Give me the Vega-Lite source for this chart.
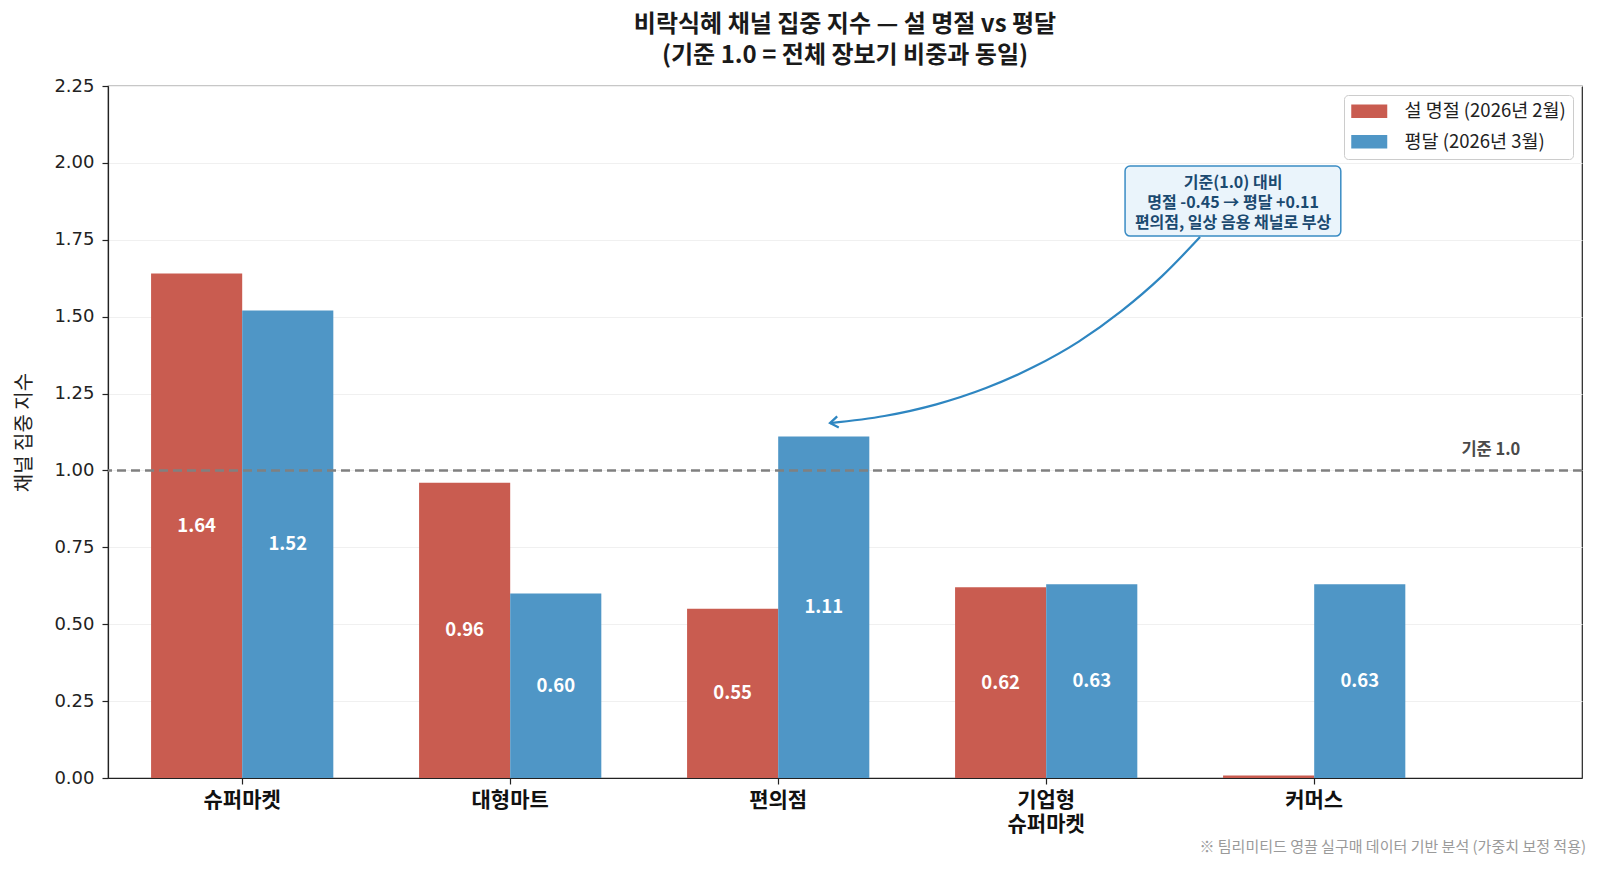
{
  "$schema": "https://vega.github.io/schema/vega-lite/v6.json",
  "width": 1474,
  "height": 692,
  "autosize": {"type": "none"},
  "padding": {"left": 108, "top": 86, "right": 18, "bottom": 91},
  "background": "white",
  "config": {
    "font": "Noto Sans CJK KR",
    "view": {"stroke": "#222222", "strokeWidth": 1.2},
    "axis": {"domainColor": "#222222", "tickColor": "#222222", "domainWidth": 1.2, "tickWidth": 1.2}
  },
  "title": {
    "text": ["비락식혜 채널 집중 지수 — 설 명절 vs 평달", "(기준 1.0 = 전체 장보기 비중과 동일)"],
    "font": "Noto Sans CJK KR",
    "fontSize": 24,
    "fontWeight": "bold",
    "color": "#1a1a1a",
    "lineHeight": 31,
    "anchor": "middle",
    "frame": "group",
    "offset": 9
  },
  "datasets": {
    "bars": [
      {"channel": "슈퍼마켓", "period": "설 명절 (2026년 2월)", "index": 1.64},
      {"channel": "슈퍼마켓", "period": "평달 (2026년 3월)", "index": 1.52},
      {"channel": "대형마트", "period": "설 명절 (2026년 2월)", "index": 0.96},
      {"channel": "대형마트", "period": "평달 (2026년 3월)", "index": 0.60},
      {"channel": "편의점", "period": "설 명절 (2026년 2월)", "index": 0.55},
      {"channel": "편의점", "period": "평달 (2026년 3월)", "index": 1.11},
      {"channel": "기업형 슈퍼마켓", "period": "설 명절 (2026년 2월)", "index": 0.62},
      {"channel": "기업형 슈퍼마켓", "period": "평달 (2026년 3월)", "index": 0.63},
      {"channel": "커머스", "period": "설 명절 (2026년 2월)", "index": 0.008},
      {"channel": "커머스", "period": "평달 (2026년 3월)", "index": 0.63}
    ],
    "arrow": [
      {"x": 3.575, "y": 1.759},
      {"x": 3.432, "y": 1.631},
      {"x": 3.281, "y": 1.518},
      {"x": 3.122, "y": 1.419},
      {"x": 2.953, "y": 1.336},
      {"x": 2.776, "y": 1.268},
      {"x": 2.591, "y": 1.215},
      {"x": 2.397, "y": 1.177},
      {"x": 2.194, "y": 1.154}
    ],
    "tip": [{"x": 2.194, "y": 1.154}],
    "box": [{"x": 3.295, "x2": 4.10, "y": 1.99, "y2": 1.762}],
    "note": [{"x": 3.698, "y": 1.934}],
    "base": [{"x": 4.66, "y": 1.068, "label": "기준 1.0"}],
    "footer": [{"x": 5.015, "y": -0.225, "label": "※ 팀리미티드 영끌 실구매 데이터 기반 분석 (가중치 보정 적용)"}],
    "one": [{"y": 1}]
  },
  "layer": [
    {
      "layer": [
        {
          "data": {"name": "bars"},
          "mark": {"type": "bar"},
          "encoding": {
            "x": {
              "field": "channel", "type": "nominal",
              "sort": ["슈퍼마켓", "대형마트", "편의점", "기업형 슈퍼마켓", "커머스"],
              "scale": {"paddingInner": 0.32, "paddingOuter": 0.41, "align": 0.196},
              "axis": {
                "title": null, "labelAngle": 0, "labelFontSize": 21, "labelFontWeight": "bold",
                "labelColor": "#111111", "labelFont": "Noto Sans CJK KR", "tickSize": 6,
                "labelPadding": 5, "labelLineHeight": 24.5,
                "labelExpr": "split(datum.label, ' ')"
              }
            },
            "xOffset": {
              "field": "period", "type": "nominal",
              "sort": ["설 명절 (2026년 2월)", "평달 (2026년 3월)"],
              "scale": {"paddingInner": 0, "paddingOuter": 0}
            },
            "y": {
              "field": "index", "type": "quantitative", "title": "채널 집중 지수",
              "scale": {"domain": [0, 2.25], "nice": false, "zero": true},
              "axis": {
                "values": [0, 0.25, 0.5, 0.75, 1, 1.25, 1.5, 1.75, 2, 2.25],
                "format": ".2f", "labelFont": "DejaVu Sans", "labelFontSize": 18, "labelColor": "#222222",
                "tickSize": 6, "labelPadding": 8,
                "grid": true, "gridColor": "#f0f0f0", "gridWidth": 1,
                "titleFont": "Noto Sans CJK KR", "titleFontSize": 20, "titleFontWeight": "normal",
                "titleColor": "#222222", "titlePadding": 19
              }
            },
            "color": {
              "field": "period", "type": "nominal",
              "sort": ["설 명절 (2026년 2월)", "평달 (2026년 3월)"],
              "scale": {"domain": ["설 명절 (2026년 2월)", "평달 (2026년 3월)"], "range": ["#C95C50", "#4F96C6"]},
              "legend": {
                "title": null, "orient": "top-right", "offset": 9, "padding": 7,
                "strokeColor": "#cccccc", "fillColor": "white", "cornerRadius": 4,
                "symbolType": "M-1,-0.75L3,-0.75L3,0.75L-1,0.75Z", "symbolSize": 324, "symbolStrokeWidth": 0,
                "labelFont": "Noto Sans CJK KR", "labelFontSize": 18.5, "labelColor": "#222222",
                "labelOffset": 35, "rowPadding": 11.5, "labelLimit": 400
              }
            }
          }
        },
        {
          "data": {"name": "one"},
          "mark": {"type": "rule", "color": "#808080", "strokeWidth": 2.5, "strokeDash": [9, 5]},
          "encoding": {"y": {"field": "y", "type": "quantitative", "title": "채널 집중 지수"}}
        }
      ]
    },
    {
      "data": {"name": "bars"},
      "transform": [{"filter": "datum.index >= 0.05"}],
      "mark": {"type": "text", "color": "white", "fontWeight": "bold", "fontSize": 18.5, "font": "Noto Sans CJK KR", "baseline": "middle"},
      "encoding": {
        "x": {
          "field": "channel", "type": "nominal",
          "sort": ["슈퍼마켓", "대형마트", "편의점", "기업형 슈퍼마켓", "커머스"],
          "scale": {"paddingInner": 0.32, "paddingOuter": 0.41, "align": 0.196},
          "axis": null
        },
        "xOffset": {
          "field": "period", "type": "nominal",
          "sort": ["설 명절 (2026년 2월)", "평달 (2026년 3월)"],
          "scale": {"paddingInner": 0, "paddingOuter": 0}
        },
        "y": {"field": "index", "type": "quantitative", "scale": {"domain": [0, 4.5], "nice": false}, "axis": null},
        "text": {"field": "index", "type": "quantitative", "format": ".2f"}
      }
    },
    {
      "layer": [
        {
          "data": {"name": "box"},
          "mark": {"type": "rect", "fill": "#EAF4FB", "stroke": "#3A8CC4", "strokeWidth": 1.5, "cornerRadius": 5},
          "encoding": {
            "x": {"field": "x", "type": "quantitative", "scale": {"domain": [-0.5, 5.0], "nice": false, "zero": false}, "axis": null},
            "x2": {"field": "x2"},
            "y": {"field": "y", "type": "quantitative", "scale": {"domain": [0, 2.25], "nice": false}, "axis": null},
            "y2": {"field": "y2"}
          }
        },
        {
          "data": {"name": "note"},
          "mark": {
            "type": "text", "font": "Noto Sans CJK KR", "fontSize": 16, "fontWeight": "bold", "color": "#1B4A70",
            "align": "center", "baseline": "middle", "lineHeight": 20,
            "text": ["기준(1.0) 대비", "명절 -0.45 → 평달 +0.11", "편의점, 일상 음용 채널로 부상"]
          },
          "encoding": {
            "x": {"field": "x", "type": "quantitative"},
            "y": {"field": "y", "type": "quantitative"}
          }
        },
        {
          "data": {"name": "arrow"},
          "mark": {"type": "line", "color": "#2E86C1", "strokeWidth": 2.2, "interpolate": "monotone"},
          "encoding": {
            "x": {"field": "x", "type": "quantitative"},
            "y": {"field": "y", "type": "quantitative"}
          }
        },
        {
          "data": {"name": "tip"},
          "mark": {"type": "point", "shape": "M-1,-0.7L0,0L-1,0.7", "filled": false, "stroke": "#2E86C1", "strokeWidth": 2.2, "size": 260, "angle": 172, "opacity": 1},
          "encoding": {
            "x": {"field": "x", "type": "quantitative"},
            "y": {"field": "y", "type": "quantitative"}
          }
        },
        {
          "data": {"name": "base"},
          "mark": {"type": "text", "font": "Noto Sans CJK KR", "fontSize": 16.5, "fontWeight": "bold", "color": "#4a4a4a", "align": "center", "baseline": "middle"},
          "encoding": {
            "x": {"field": "x", "type": "quantitative"},
            "y": {"field": "y", "type": "quantitative"},
            "text": {"field": "label"}
          }
        },
        {
          "data": {"name": "footer"},
          "mark": {"type": "text", "font": "Noto Sans CJK KR", "fontSize": 15, "color": "#9a9a9a", "align": "right", "baseline": "middle"},
          "encoding": {
            "x": {"field": "x", "type": "quantitative"},
            "y": {"field": "y", "type": "quantitative"},
            "text": {"field": "label"}
          }
        }
      ]
    }
  ],
  "resolve": {"scale": {"x": "independent", "y": "independent"}}
}
